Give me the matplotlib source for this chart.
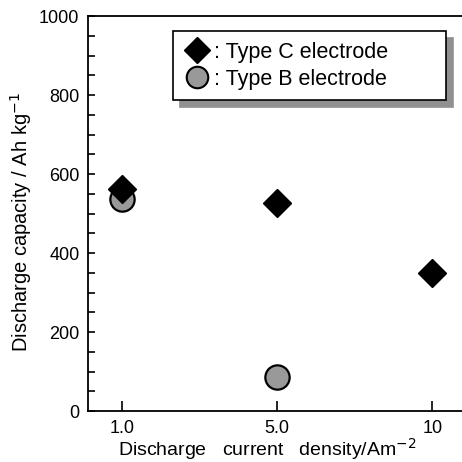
import matplotlib.pyplot as plt
from matplotlib.ticker import MultipleLocator
from matplotlib.lines import Line2D

plt.rcParams['font.family'] = ['Liberation Sans', 'DejaVu Sans']

densities = ['1.0', '5.0', '10']
type_c = [562, 527, 349]
type_b_x = ['1.0', '5.0']
type_b = [537, 86]

fig = plt.figure(figsize=(4.62, 4.62), dpi=100)
ax = fig.add_axes([0.19, 0.11, 0.83, 0.855])

xc = [densities.index(d) for d in densities]
xb = [densities.index(d) for d in type_b_x]
ax.plot(xb, type_b, 'o', ms=17.5, mfc='#999999', mec='black', mew=1.6, ls='none')
ax.plot(xc, type_c, 'D', ms=14.5, mfc='black', mec='black', ls='none')

ax.set_xlim(-0.22, 2.25)
ax.set_ylim(0, 1000)
ax.set_xticks(range(len(densities)))
ax.set_xticklabels(densities)
ax.yaxis.set_major_locator(MultipleLocator(200))
ax.yaxis.set_minor_locator(MultipleLocator(50))
ax.tick_params(direction='in', length=5, width=1.2, labelsize=13, pad=6)
ax.tick_params(which='minor', direction='in', length=5, width=1.2)
ax.tick_params(axis='x', length=7, pad=6)
ax.spines['right'].set_visible(False)
for s in ['left', 'bottom', 'top']:
    ax.spines[s].set_linewidth(1.3)

ax.set_xlabel('Discharge   current   density/Am$^{-2}$', fontsize=14)
ax.xaxis.set_label_coords(0.467, -0.064)
ax.set_ylabel('Discharge capacity / Ah kg$^{-1}$', fontsize=14.5)
ax.yaxis.set_label_coords(-0.14, 0.48)

handles = [
    Line2D([], [], marker='D', ms=13.5, mfc='black', mec='black', ls='none'),
    Line2D([], [], marker='o', ms=15.5, mfc='#999999', mec='black', mew=1.5, ls='none'),
]
leg = ax.legend(handles, [': Type C electrode', ': Type B electrode'],
                loc='upper left', bbox_to_anchor=(0.222, 0.787, 0.713, 0.175), mode='expand',
                fontsize=15.5, frameon=True, fancybox=False, edgecolor='black', framealpha=1,
                shadow={'ox': 5, 'oy': -5, 'color': '#909090', 'alpha': 1},
                handletextpad=0.15, borderpad=0.48, borderaxespad=0,
                labelspacing=0.3, handlelength=1.3)
leg.get_frame().set_linewidth(1.2)

fig.savefig('out.png', dpi=100)
